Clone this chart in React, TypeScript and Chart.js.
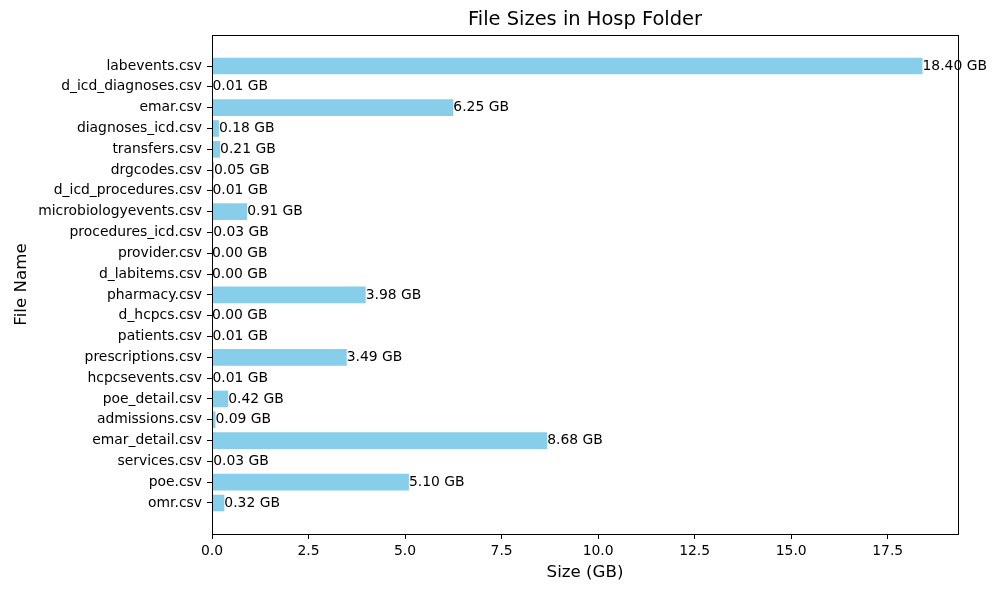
import React, { useEffect, useRef } from "react";
import { Chart, registerables } from "chart.js";

Chart.register(...registerables);

const files = [
  "labevents.csv",
  "d_icd_diagnoses.csv",
  "emar.csv",
  "diagnoses_icd.csv",
  "transfers.csv",
  "drgcodes.csv",
  "d_icd_procedures.csv",
  "microbiologyevents.csv",
  "procedures_icd.csv",
  "provider.csv",
  "d_labitems.csv",
  "pharmacy.csv",
  "d_hcpcs.csv",
  "patients.csv",
  "prescriptions.csv",
  "hcpcsevents.csv",
  "poe_detail.csv",
  "admissions.csv",
  "emar_detail.csv",
  "services.csv",
  "poe.csv",
  "omr.csv",
];

const sizesGB = [
  18.4, 0.01, 6.25, 0.18, 0.21, 0.05, 0.01, 0.91, 0.03, 0.0, 0.0, 3.98, 0.0,
  0.01, 3.49, 0.01, 0.42, 0.09, 8.68, 0.03, 5.1, 0.32,
];

const xTicks = [0, 2.5, 5, 7.5, 10, 12.5, 15, 17.5];

const FONT = "'DejaVu Sans', sans-serif";

const framePlugin = {
  id: "frame",
  afterDraw(chart: any) {
    const { ctx, chartArea } = chart;
    ctx.save();
    ctx.strokeStyle = "#000";
    ctx.lineWidth = 1;
    ctx.strokeRect(
      Math.round(chartArea.left) + 0.5,
      Math.round(chartArea.top) + 0.5,
      Math.round(chartArea.right - chartArea.left),
      Math.round(chartArea.bottom - chartArea.top)
    );
    ctx.restore();
  },
};

const valueLabelPlugin = {
  id: "valueLabels",
  afterDatasetsDraw(chart: any) {
    const { ctx } = chart;
    const meta = chart.getDatasetMeta(0);
    ctx.save();
    ctx.font = `13.9px ${FONT}`;
    ctx.fillStyle = "#000";
    ctx.textAlign = "left";
    ctx.textBaseline = "middle";
    meta.data.forEach((el: any, i: number) => {
      ctx.fillText(sizesGB[i].toFixed(2) + " GB", el.x, el.y);
    });
    ctx.restore();
  },
};

export default function App() {
  const ref = useRef<HTMLCanvasElement>(null);

  useEffect(() => {
    if (!ref.current) return;
    const chart = new Chart(ref.current, {
      type: "bar",
      data: {
        datasets: [
          {
            data: sizesGB.map((v, i) => ({ x: v, y: i })),
            backgroundColor: "#87CEEB",
            borderWidth: 0,
            barPercentage: 0.8,
            categoryPercentage: 1.0,
          },
        ],
      },
      options: {
        indexAxis: "y",
        responsive: false,
        animation: false,
        layout: { padding: { left: 0, right: 37, top: 0, bottom: 0 } },
        plugins: {
          legend: { display: false },
          tooltip: { enabled: false },
          title: {
            display: true,
            text: "File Sizes in Hosp Folder",
            fullSize: false,
            color: "#000",
            font: { family: FONT, size: 19.44, weight: "normal" },
            padding: { top: 8.3, bottom: 3.4 },
          },
        },
        scales: {
          x: {
            type: "linear",
            min: 0,
            max: 19.32,
            afterBuildTicks: (s: any) => {
              s.ticks = xTicks.map((v) => ({ value: v }));
            },
            afterFit: (s: any) => {
              s.height = 55;
            },
            ticks: {
              color: "#000",
              font: { family: FONT, size: 13.9 },
              padding: 4,
              maxRotation: 0,
              autoSkip: false,
              callback: (v: any) => Number(v).toFixed(1),
            },
            grid: {
              display: true,
              drawOnChartArea: false,
              drawTicks: true,
              tickLength: 5,
              color: "#000",
              lineWidth: 1,
            },
            border: { display: false },
            title: {
              display: true,
              text: "Size (GB)",
              color: "#000",
              font: { family: FONT, size: 16.67 },
              padding: { top: 0, bottom: 6 },
            },
          },
          y: {
            type: "linear",
            min: -1.49,
            max: 22.49,
            reverse: true,
            offset: false,
            afterBuildTicks: (s: any) => {
              s.ticks = files.map((_, i) => ({ value: i }));
            },
            afterFit: (s: any) => {
              s.width = 212;
            },
            ticks: {
              color: "#000",
              font: { family: FONT, size: 13.9 },
              padding: 5,
              autoSkip: false,
              callback: (v: any) => files[v] ?? "",
            },
            grid: {
              display: true,
              offset: false,
              drawOnChartArea: false,
              drawTicks: true,
              tickLength: 5,
              color: "#000",
              lineWidth: 1,
            },
            border: { display: false },
            title: {
              display: true,
              text: "File Name",
              color: "#000",
              font: { family: FONT, size: 16.67 },
              padding: { top: 12, bottom: 0 },
            },
          },
        },
      },
      plugins: [framePlugin, valueLabelPlugin],
    } as any);
    return () => chart.destroy();
  }, []);

  return (
    <div style={{ position: "absolute", left: 0, top: 0, width: 995, height: 589, background: "#fff" }}>
      <canvas ref={ref} width={995} height={589} />
    </div>
  );
}
